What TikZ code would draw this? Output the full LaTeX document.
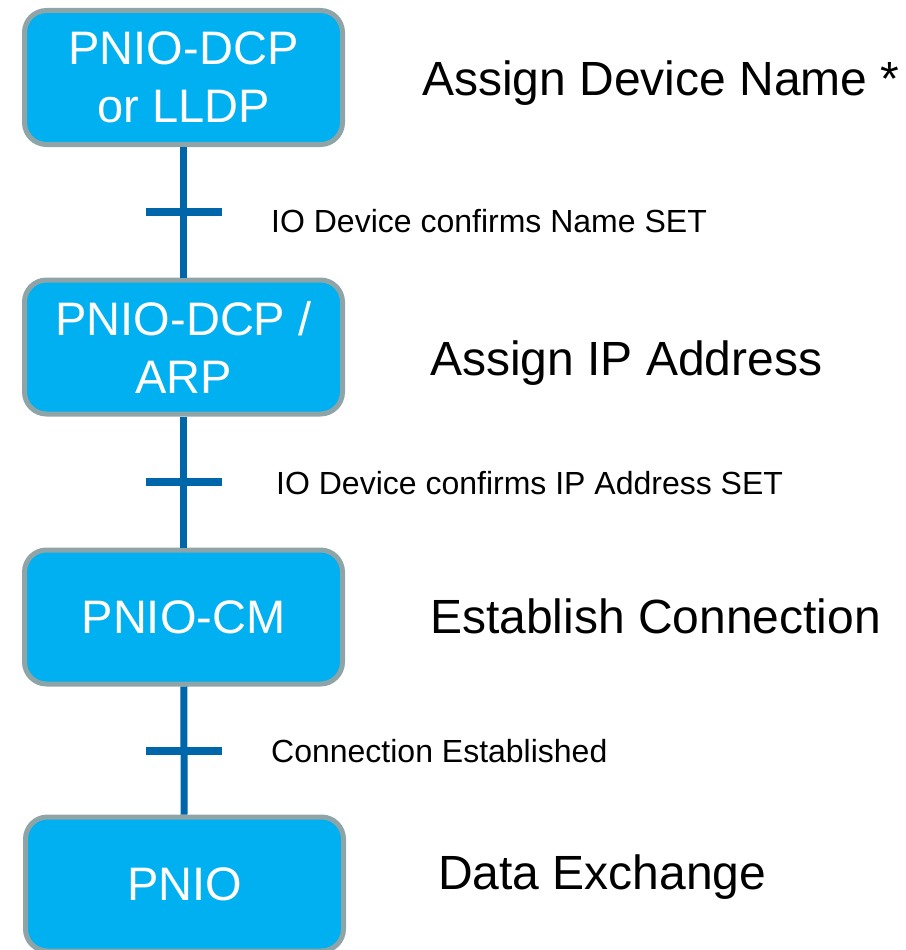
\documentclass[tikz,border=0pt]{standalone}
\usepackage{fontspec}
\setmainfont{Liberation Sans}
\definecolor{boxfill}{RGB}{0,176,240}
\definecolor{boxrim}{RGB}{143,164,166}
\definecolor{linkblue}{RGB}{0,102,170}
\tikzset{
  stage/.style={draw=boxrim, line width=5pt, fill=boxfill, rounded corners=22pt, minimum width=318pt, minimum height=134pt, inner sep=0pt, text=white, align=center, font=\fontsize{47}{58}\selectfont},
  link/.style={draw=linkblue, line width=7pt},
  tickbar/.style={fill=linkblue, minimum width=76pt, minimum height=8pt, inner sep=0pt},
  phase/.style={anchor=base west, inner sep=0pt, font=\fontsize{48}{56}\selectfont},
  note/.style={anchor=base west, inner sep=0pt, font=\fontsize{32}{37}\selectfont}
}
\begin{document}
\begin{tikzpicture}[x=1pt,y=-1pt]
\useasboundingbox (0,0) rectangle (905,950);
\clip (0,0) rectangle (905,950);
\node[stage] (dcp) at (183.5,77.5) {PNIO-DCP\\or LLDP};
\node[stage] (arp) at (183.5,347) {PNIO-DCP /\\ARP};
\node[stage] (cm) at (183.5,617) {PNIO-CM};
\node[stage] (pnio) at (184.5,884) {PNIO};
\draw[link] (dcp) -- (arp) node[tickbar,midway] (tickName) {};
\draw[link] (arp) -- (cm) node[tickbar,midway] (tickIp) {};
\draw[link] (cm) -- (pnio) node[tickbar,midway] (tickConn) {};
\node[phase] (nameTxt) at (422,95) {Assign Device Name *};
\node[phase] (ipTxt) at (430,375) {Assign IP Address};
\node[phase] (connTxt) at (430,633) {Establish Connection};
\node[phase] (dataTxt) at (438,889) {Data Exchange};
\node[note] (nameNote) at (271,232) {IO Device confirms Name SET};
\node[note] (ipNote) at (276,494) {IO Device confirms IP Address SET};
\node[note] (connNote) at (271,762) {Connection Established};
\end{tikzpicture}
\end{document}
